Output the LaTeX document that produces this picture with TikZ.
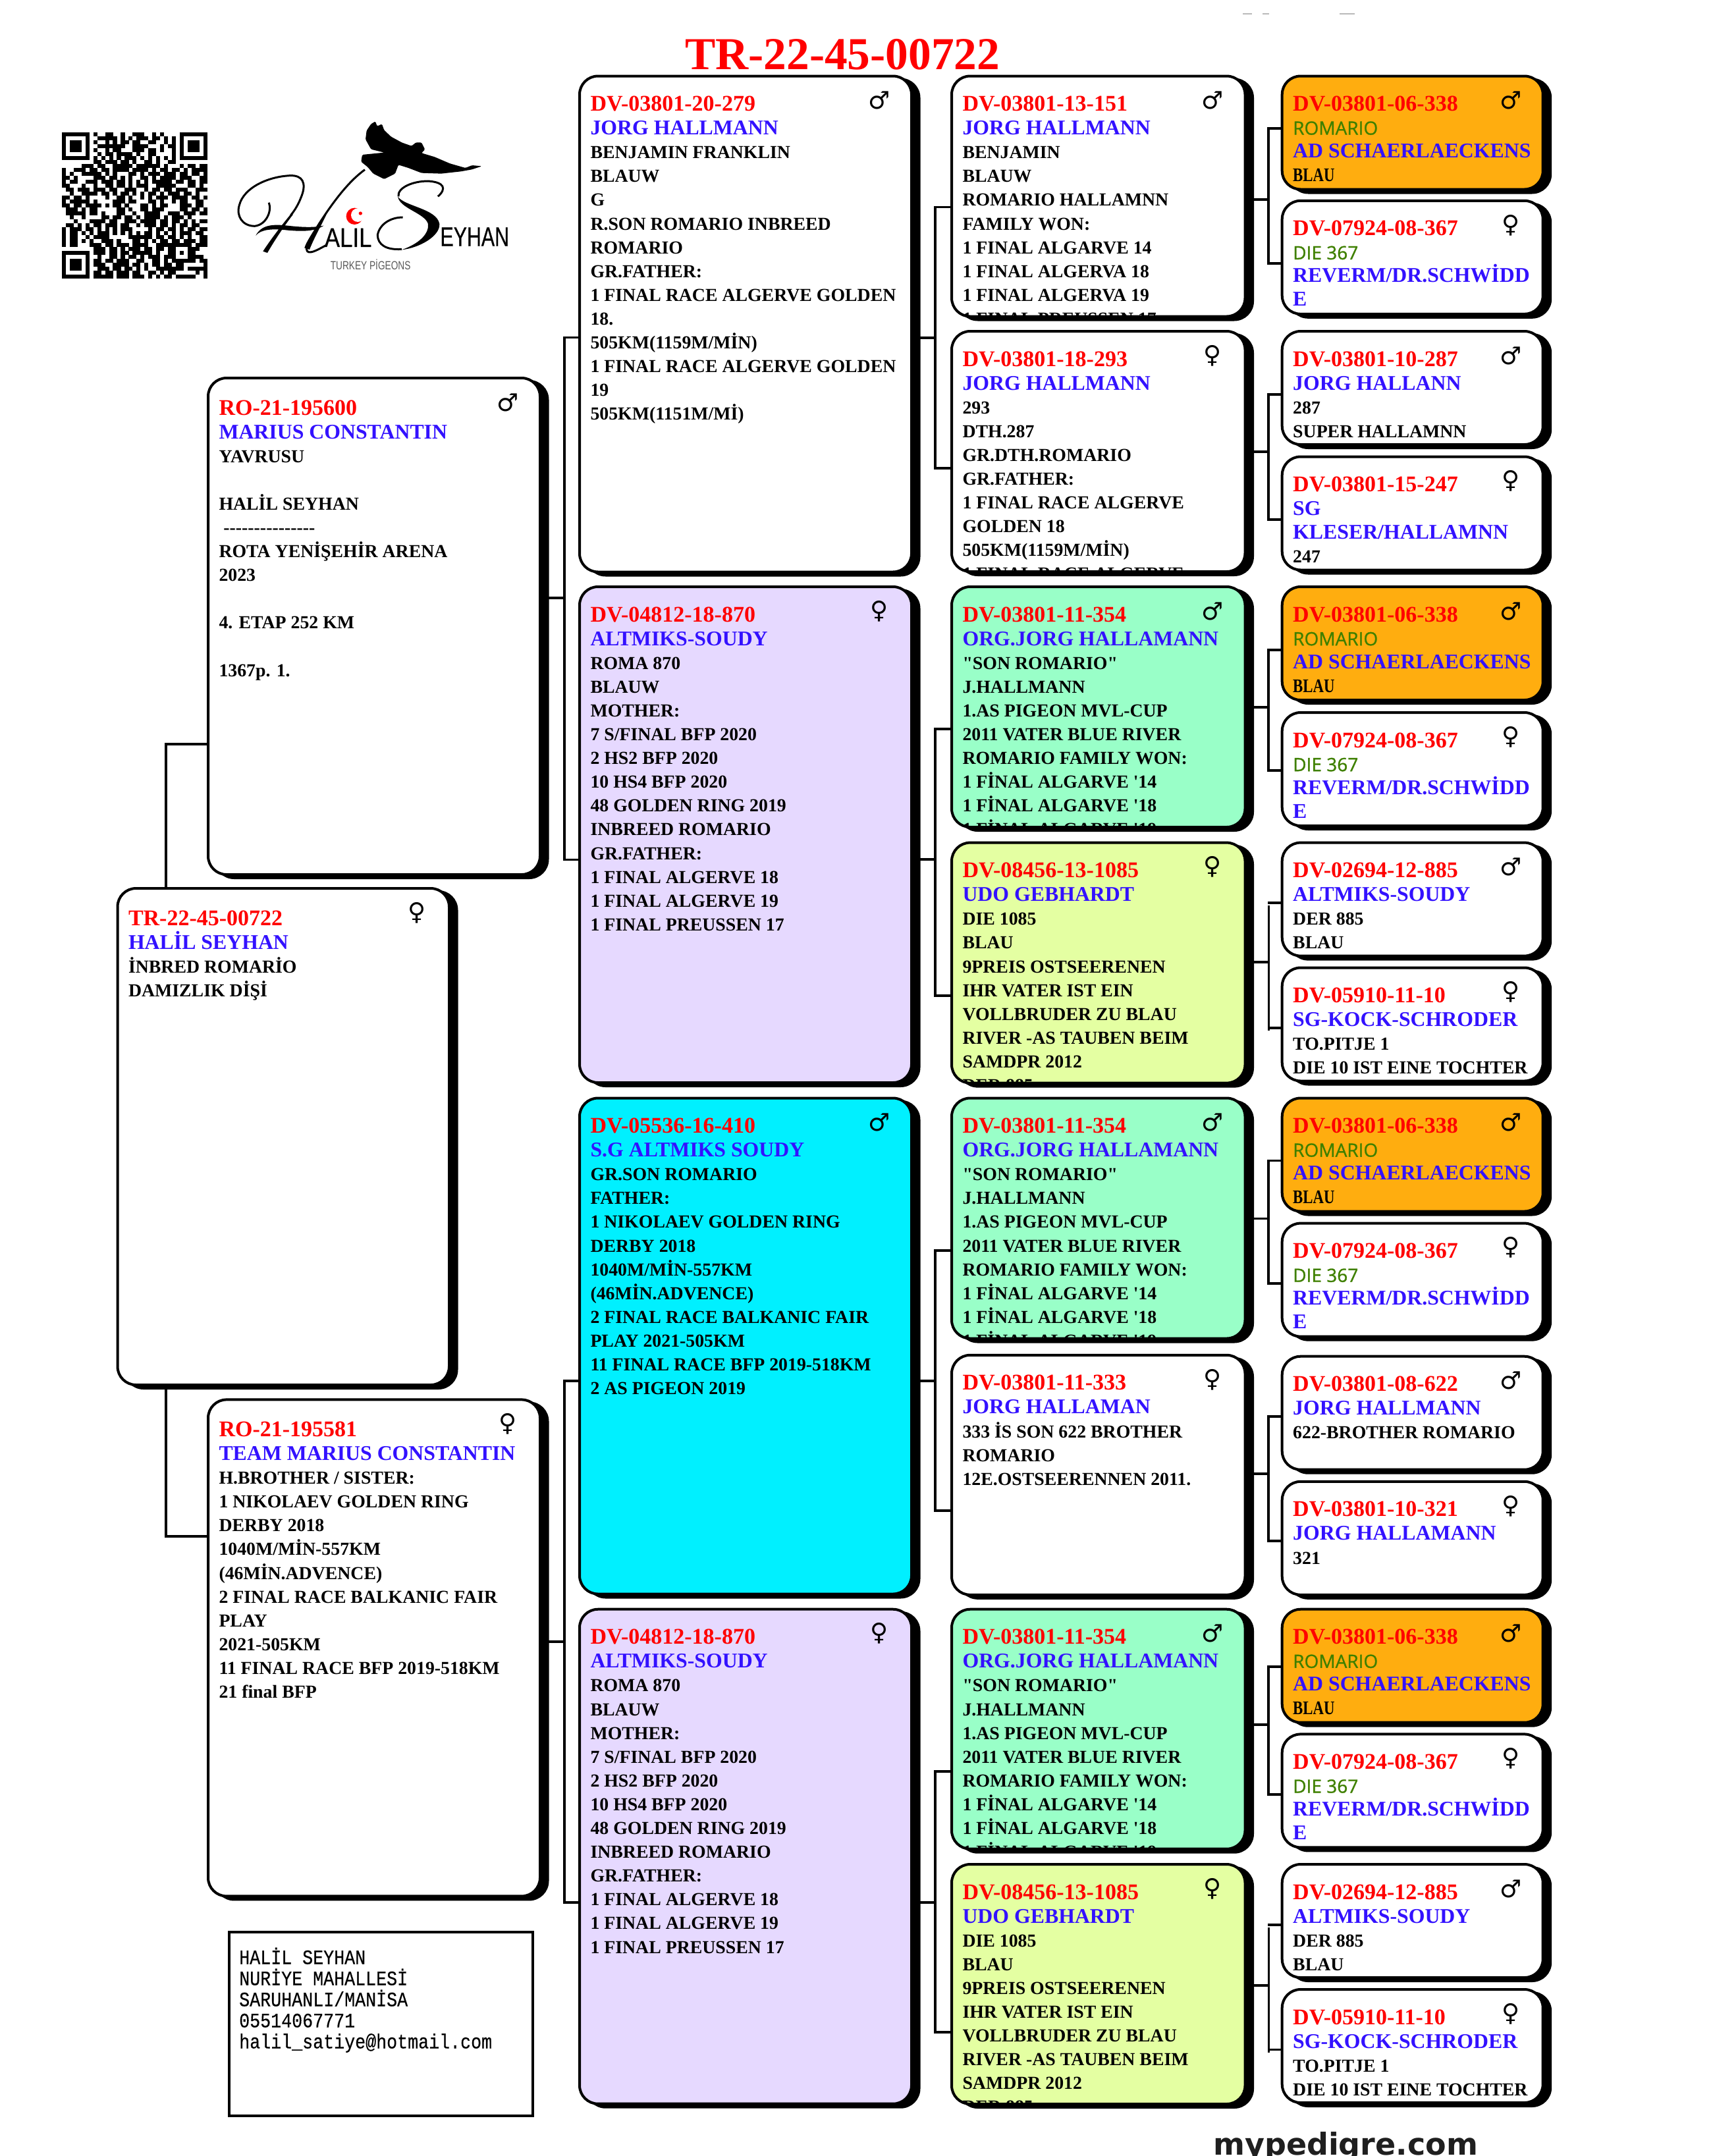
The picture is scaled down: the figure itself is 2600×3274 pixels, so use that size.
\documentclass[tikz,border=0pt]{standalone}
\usepackage{fontspec}
\usetikzlibrary{calc}
\newfontfamily\srf{Liberation Serif}
\newfontfamily\snf[FakeBold=0.5]{Liberation Sans}
\newfontfamily\snr{Liberation Sans}
\newfontfamily\opn[FakeBold=1]{Open Sans}
\newfontfamily\mnf[FakeBold=0.4]{Liberation Mono}
\newfontfamily\djv{DejaVu Sans}
\definecolor{tred}{HTML}{FF0000}
\definecolor{tblue}{HTML}{3311FF}
\definecolor{tgreen}{HTML}{3F8000}
\definecolor{forange}{HTML}{FFAD0F}
\definecolor{fmint}{HTML}{99FFC8}
\definecolor{fpale}{HTML}{E4FFA2}
\definecolor{flav}{HTML}{E6D9FF}
\definecolor{fcyan}{HTML}{00F0FF}
\tikzset{
 pbox/.style={draw=black,line width=4pt,rounded corners=28pt,outer sep=2pt,inner sep=0pt,anchor=north west},
 sbox/.style={fill=black,rounded corners=30pt,outer sep=0pt,inner sep=0pt,anchor=north west},
 conn/.style={draw=black,line width=3.8pt,line cap=butt,line join=miter},
 thinconn/.style={draw=black,line width=3pt},
 plain/.style={minimum width=0pt,minimum height=0pt,draw=none,fill=none,rounded corners=0pt,inner sep=0pt},
 sexmark/.style={plain,anchor=center,font=\djv\fontsize{37}{37}\selectfont},
}
\newcommand\tln[1]{\hbox{#1}}
\newcommand\rd[1]{\tln{\srf\bfseries\fontsize{34}{36}\selectfont\color{tred}#1}}
\newcommand\nm[1]{\tln{\srf\bfseries\fontsize{31.8}{36}\selectfont\color{tblue}#1}}
\newcommand\bk[1]{\tln{\srf\bfseries\fontsize{27.8}{36}\selectfont #1}}
\newcommand\gn[1]{\tln{\opn\fontsize{28}{36}\selectfont\color{tgreen}#1}\vskip-1.2pt}
\newcommand\nb[1]{\tln{\srf\bfseries\fontsize{29.2}{36}\selectfont\scalebox{.78}[1]{#1}}}
% name, x, y, w, h, fill, sex, baseline offset, lines
\newcommand\pbox[9]{%
 \node[sbox,minimum width=#4pt,minimum height=#5pt] (#1-s) at ({#2+11.5},{-(#3+5)}) {};
 \node[pbox,fill=#6,minimum width=#4pt-4pt,minimum height=#5pt-4pt,
  path picture={
   \node[plain,anchor=base west] at ($(path picture bounding box.north west)+(14.5,{-(#8-2)})$)
    {\vtop{\baselineskip=36.1pt\lineskiplimit=-100pt\lineskip=0pt #9}};
   \node[sexmark] at ($(path picture bounding box.north east)+(-49,-37)$) {\char"#7};
  }] (#1) at (#2,{-#3}) {};
}
\newcommand\mainbr[7]{% parent, child1, child2, ymid, y1, y2, xv
 \draw[conn] (#1.east |- 0,{-#4}) -- (#7,{-#4});
 \draw[conn] (#2.west |- 0,{-#5}) -| (#7,{-#4}) |- (#3.west |- 0,{-#6});
}
\newcommand\gapbr[7]{%
 \draw[conn] (#1.east |- 0,{-#4}) -- (#7,{-#4});
 \draw[conn] (#2.west |- 0,{-#5}) -- ({#7-1.5},{-#5});
 \draw[conn] (#3.west |- 0,{-#6}) -- ({#7-1.5},{-#6});
 \draw[thinconn] (#7,{-(#5+4)}) -- (#7,{-(#6+4)});
}
\newcommand\lavlines{\rd{DV-04812-18-870}\nm{ALTMIKS-SOUDY}\bk{ROMA 870}\bk{BLAUW}\bk{MOTHER:}\bk{7 S/FINAL BFP 2020}\bk{2 HS2 BFP 2020}\bk{10 HS4 BFP 2020}\bk{48 GOLDEN RING 2019}\bk{INBREED ROMARIO}\bk{GR.FATHER:}\bk{1 FINAL ALGERVE 18}\bk{1 FINAL ALGERVE 19}\bk{1 FINAL PREUSSEN 17}}
\newcommand\mintlines{\rd{DV-03801-11-354}\nm{ORG.JORG HALLAMANN}\bk{"SON ROMARIO"}\bk{J.HALLMANN}\bk{1.AS PIGEON MVL-CUP}\bk{2011 VATER BLUE RIVER}\bk{ROMARIO FAMILY WON:}\bk{1 FİNAL ALGARVE '14}\bk{1 FİNAL ALGARVE '18}\bk{1 FİNAL ALGARVE '19}}
\newcommand\palelines{\rd{DV-08456-13-1085}\nm{UDO GEBHARDT}\bk{DIE 1085}\bk{BLAU}\bk{9PREIS OSTSEERENEN}\bk{IHR VATER IST EIN}\bk{VOLLBRUDER ZU BLAU}\bk{RIVER -AS TAUBEN BEIM}\bk{SAMDPR 2012}\bk{DER 885}}
\newcommand\orglines{\rd{DV-03801-06-338}\gn{ROMARIO}\nm{AD SCHAERLAECKENS}\nb{BLAU}}
\newcommand\dielines{\rd{DV-07924-08-367}\gn{DIE 367}\nm{REVERM/DR.SCHWİDD}\nm{E}}
\newcommand\derlines{\rd{DV-02694-12-885}\nm{ALTMIKS-SOUDY}\bk{DER 885}\bk{BLAU}}
\newcommand\tenlines{\rd{DV-05910-11-10}\nm{SG-KOCK-SCHRODER}\bk{TO.PITJE 1}\bk{DIE 10 IST EINE TOCHTER}}
% QR parser
\newcount\qrx \newcount\qry
\def\qrparse#1{\ifx#1\relax\else\ifx#1X\fill (\the\qrx,\the\qry) rectangle ++(1.03,1.03);\fi\advance\qrx by 1 \expandafter\qrparse\fi}
\newcommand\qrrow[1]{\qrx=0 \qrparse#1\relax\advance\qry by 1 }
\begin{document}
\begin{tikzpicture}[x=1pt,y=1pt]
\useasboundingbox (0,0) rectangle (2600,-3274);
\clip (0,0) rectangle (2600,-3274);
\fill[white] (0,0) rectangle (2600,-3274);
% faint marks at the top
\draw[gray!55,line width=1.2pt] (1887,-21) -- (1901,-21) (1917,-21) -- (1927,-21) (2034,-21) -- (2057,-21);
% title
\node[anchor=base west,inner sep=0pt,text=tred,font=\srf\bfseries\fontsize{69.4}{70}\selectfont] (title) at (1040,-105) {TR-22-45-00722};
% QR
\begin{scope}[shift={(94,-201)},x=5.96pt,y=-5.99pt]
\qry=0
\qrrow{XXXXXXX. X..XX..X..XXX..X.X... .XXXXXXX}
\qrrow{X.....X. .XXXXX.X.X.XXX.XX.X.X .X.....X}
\qrrow{X.XXX.X. X..X.X.XX.XX..XX..X.X .X.XXX.X}
\qrrow{X.XXX.X. .XXXXXXX..XXXX...X.XX .X.XXX.X}
\qrrow{X.XXX.X. X..X.XX...XXX.XX.X..X .X.XXX.X}
\qrrow{X.....X. .X.XX.XXXX.X..XX....X .X.....X}
\qrrow{XXXXXXX. X.X.X.X.XXX.X.X.X.X.X .XXXXXXX}
\qrrow{........ XX.XXX.XX.X..XX.X..XX ........}
\qrrow{.....XXX .XX..XXXXX.XXXXXX.X.. .X.XX.XX}
\qrrow{X..XXX.XX. XX.XXXX.XX XX.X.XX.XX .X.XXXX}
\qrrow{X.X..XXXXX .X.X...XX. X.XXX.XXX. XX.XX.X}
\qrrow{XX.X....XX X.XX.X.X.. XX.X.XXXX. XXX..XX}
\qrrow{X.XX..XXX. XXX.XX.X.X .X.XXXXX.X X.XX.XX}
\qrrow{XX...X..X. .XX.XX.X.X XX..XXXXX. ..XX.X.}
\qrrow{.XX.XXX.XX X.XX..XXX. .X.XX.XX.X XX..XXX}
\qrrow{..X..XXXX. XX.X.XX.X. X.XX.X.XXX .XX.X..}
\qrrow{XX.XX.X... .X..XX.X.. X.X.XXX.XX XX.XX.X}
\qrrow{X.XXXXX.X. ...XXX.XX. ..XX.X..X. XX..XX.}
\qrrow{XX.XX.XXXX .X.XX.X... XX.X.XX... XXX.XX.}
\qrrow{.XXX.X.XX. ....XX.X.. XX.XXX.... XX.XX.X}
\qrrow{.XXXXX.XX. X...XX..X. .XXXX..XXX .XXX.XX}
\qrrow{..X..X.... XX.XX.XX.X .XXXX.X.XX X.X....}
\qrrow{...X...XXX X.XX..XXX. XXXX.XX.XX .X.X.XX}
\qrrow{.XX.X.X.XX .XXX.XX..X .XXX.XX.X. XX.XX..}
\qrrow{X.XXX.XX.X .X.X.XXX.. ..X.XX.XX. X.XX.XX}
\qrrow{X.XX.X.X.X XX.X.X.X.X .XX.X.X.X. XXX.XX.}
\qrrow{X.XX..X.XX XX.....XXX XXX.XX.XX. X.X..XX}
\qrrow{X.XX.X.X.. XXX.X...XX .X.X.XX.XX .XXX.XX}
\qrrow{X.XX...XXX .XX.XXX.XX XX..XXXX XXXXX .XXX}
\qrrow{........XX X.XX.X.XXX .XX.XX.X X...X XX..}
\qrrow{XXXXXXX. XXX.XX.XX.XXXXX.X..X X.X.X X...}
\qrrow{X.....X. .X..XX.X.XX.X.XXX.XX X...X XXX.}
\qrrow{X.XXX.X. XX.XX.XXX..XX..XX.X. XXXXX X.XX}
\qrrow{X.XXX.X. XXX..XXXX.XX.X.XX.XX .XX.. ...X}
\qrrow{X.XXX.X. .XXX.XX.XX.X.X..XXXX XXX.X XXXX}
\qrrow{X.....X. XX.XX.XXX.XX..XX.X.X X.... .X.X}
\qrrow{XXXXXXX. XXXXX.XXX.XXX.X.X.XX .XXXX X..X}
\end{scope}
% logo (coordinates of a 3x crop)
\begin{scope}[shift={(350,-175)},x=0.3333pt,y=-0.3333pt]
\fill[black,rounded corners=1.5pt] (660,28) -- (668,50) -- (690,40) -- (700,68) -- (732,98) -- (782,125) -- (825,140) -- (845,124) -- (870,124) -- (886,156) -- (870,172) -- (930,190) -- (1000,220) -- (1070,240) -- (1100,228) -- (1145,232) -- (1100,247) -- (1050,256) -- (960,266) -- (870,263) -- (810,240) -- (765,226) -- (750,266) -- (700,291) -- (650,266) -- (625,236) -- (595,212) -- (600,180) -- (700,170) -- (640,155) -- (615,110) -- (620,70) -- (640,40) -- cycle;
\draw[black,line width=3pt] (175,398) .. controls (190,440) and (160,500) .. (110,505) .. controls (55,505) and (25,460) .. (40,410) .. controls (60,330) and (170,280) .. (270,275) .. controls (330,272) and (345,310) .. (325,365) .. controls (310,405) and (295,430) .. (275,455);
\fill[black] (275,450) .. controls (230,505) and (180,570) .. (148,620) -- (168,627) .. controls (195,580) and (240,510) .. (285,452) -- cycle;
\fill[black] (115,548) .. controls (140,500) and (190,495) .. (260,503) .. controls (320,510) and (380,513) .. (425,503) .. controls (380,532) and (320,529) .. (260,524) .. controls (190,516) and (140,519) .. (115,548) -- cycle;
\draw[black,line width=3pt] (612,248) .. controls (540,300) and (470,390) .. (400,500) .. controls (370,550) and (335,600) .. (350,620) .. controls (365,635) and (410,605) .. (440,590);
\fill[black] (445,435) .. controls (400,500) and (345,570) .. (337,605) -- (360,612) .. controls (380,560) and (415,500) .. (445,435) -- cycle;
\fill[tred] (565,460) circle (38);
\fill[white] (580,455) circle (31);
\fill[tred] (592,447) circle (8);
\node[anchor=base west,inner sep=0pt,font=\snf\fontsize{41}{41}\selectfont] (logoa) at (428,600) {\scalebox{.85}[1]{ALIL}};
\node[anchor=base west,inner sep=0pt,font=\snf\fontsize{41}{41}\selectfont] (logob) at (955,596) {\scalebox{.74}[1]{EYHAN}};
\draw[black,line width=3pt] (945,370) .. controls (985,335) and (975,305) .. (900,300) .. controls (830,300) and (760,330) .. (765,370);
\fill[black] (762,370) .. controls (790,415) and (940,425) .. (952,495) .. controls (956,550) and (860,605) .. (780,613) .. controls (860,585) and (905,540) .. (900,495) .. controls (885,445) and (770,425) .. (762,370) -- cycle;
\draw[black,line width=3pt] (780,610) .. controls (710,615) and (670,590) .. (670,545) .. controls (680,495) and (730,465) .. (785,465);
\node[anchor=base,inner sep=0pt,text=black!65,font=\snr\fontsize{18}{18}\selectfont] (logoc) at (638,705) {\scalebox{.76}[1]{TURKEY PİGEONS}};
\end{scope}
% generation 2 and 3
\pbox{n1}{176.5}{1347}{507.5}{758}{white}{2640}{58}{\rd{TR-22-45-00722}\nm{HALİL SEYHAN}\bk{İNBRED ROMARİO}\bk{DAMIZLIK DİŞİ}}
\pbox{n2}{314}{572}{508}{758}{white}{2642}{58}{\rd{RO-21-195600}\nm{MARIUS CONSTANTIN}\bk{YAVRUSU}\bk{\strut}\bk{HALİL SEYHAN}\bk{\ ---------------}\bk{ROTA YENİŞEHİR ARENA}\bk{2023}\bk{\strut}\bk{4. ETAP 252 KM}\bk{\strut}\bk{1367p. 1.}}
\pbox{n3}{314}{2123.4}{508}{758}{white}{2640}{58}{\rd{RO-21-195581}\nm{TEAM MARIUS CONSTANTIN}\bk{H.BROTHER / SISTER:}\bk{1 NIKOLAEV GOLDEN RING}\bk{DERBY 2018}\bk{1040M/MİN-557KM}\bk{(46MİN.ADVENCE)}\bk{2 FINAL RACE BALKANIC FAIR}\bk{PLAY}\bk{2021-505KM}\bk{11 FINAL RACE BFP 2019-518KM}\bk{21 final BFP}}
% generation 4
\pbox{a1}{878}{113.5}{508}{757}{white}{2642}{55}{\rd{DV-03801-20-279}\nm{JORG HALLMANN}\bk{BENJAMIN FRANKLIN}\bk{BLAUW}\bk{G}\bk{R.SON ROMARIO INBREED}\bk{ROMARIO}\bk{GR.FATHER:}\bk{1 FINAL RACE ALGERVE GOLDEN}\bk{18.}\bk{505KM(1159M/MİN)}\bk{1 FINAL RACE ALGERVE GOLDEN}\bk{19}\bk{505KM(1151M/Mİ)}}
\pbox{a2}{878}{889}{508}{757}{flav}{2640}{55}{\lavlines}
\pbox{a3}{878}{1665.5}{508}{757}{fcyan}{2642}{55}{\rd{DV-05536-16-410}\nm{S.G ALTMIKS SOUDY}\bk{GR.SON ROMARIO}\bk{FATHER:}\bk{1 NIKOLAEV GOLDEN RING}\bk{DERBY 2018}\bk{1040M/MİN-557KM}\bk{(46MİN.ADVENCE)}\bk{2 FINAL RACE BALKANIC FAIR}\bk{PLAY 2021-505KM}\bk{11 FINAL RACE BFP 2019-518KM}\bk{2 AS PIGEON 2019}}
\pbox{a4}{878}{2441.7}{508}{755}{flav}{2640}{55}{\lavlines}
% generation 5
\pbox{b1}{1443}{113.5}{449.5}{369}{white}{2642}{55}{\rd{DV-03801-13-151}\nm{JORG HALLMANN}\bk{BENJAMIN}\bk{BLAUW}\bk{ROMARIO HALLAMNN}\bk{FAMILY WON:}\bk{1 FINAL ALGARVE 14}\bk{1 FINAL ALGERVA 18}\bk{1 FINAL ALGERVA 19}\bk{1 FINAL PREUSSEN 17}}
\pbox{b2}{1443}{501}{449.5}{369}{white}{2640}{55}{\rd{DV-03801-18-293}\nm{JORG HALLMANN}\bk{293}\bk{DTH.287}\bk{GR.DTH.ROMARIO}\bk{GR.FATHER:}\bk{1 FINAL RACE ALGERVE}\bk{GOLDEN 18}\bk{505KM(1159M/MİN)}\bk{1 FINAL RACE ALGERVE}}
\pbox{b3}{1443}{889}{449.5}{369}{fmint}{2642}{55}{\mintlines}
\pbox{b4}{1443}{1277.6}{449.5}{369}{fpale}{2640}{55}{\palelines}
\pbox{b5}{1443}{1665.5}{449.5}{369}{fmint}{2642}{55}{\mintlines}
\pbox{b6}{1443}{2055.8}{449.5}{368}{white}{2640}{55}{\rd{DV-03801-11-333}\nm{JORG HALLAMAN}\bk{333 İS SON 622 BROTHER}\bk{ROMARIO}\bk{12E.OSTSEERENNEN 2011.}}
\pbox{b7}{1443}{2441.7}{449.5}{368}{fmint}{2642}{55}{\mintlines}
\pbox{b8}{1443}{2829}{449.5}{368}{fpale}{2640}{55}{\palelines}
% generation 6
\pbox{c1}{1944.7}{113.5}{400}{176}{forange}{2642}{55}{\orglines}
\pbox{c2}{1944.7}{302.8}{400}{176}{white}{2640}{55}{\dielines}
\pbox{c3}{1944.7}{501}{400}{176}{white}{2642}{55}{\rd{DV-03801-10-287}\nm{JORG HALLANN}\bk{287}\bk{SUPER HALLAMNN}}
\pbox{c4}{1944.7}{691.5}{400}{176}{white}{2640}{55}{\rd{DV-03801-15-247}\nm{SG}\nm{KLESER/HALLAMNN}\bk{247}}
\pbox{c5}{1944.7}{889}{400}{176}{forange}{2642}{55}{\orglines}
\pbox{c6}{1944.7}{1080}{400}{176}{white}{2640}{55}{\dielines}
\pbox{c7}{1944.7}{1277.6}{400}{176}{white}{2642}{55}{\derlines}
\pbox{c8}{1944.7}{1467.5}{400}{176}{white}{2640}{55}{\tenlines}
\pbox{c9}{1944.7}{1665.5}{400}{176}{forange}{2642}{55}{\orglines}
\pbox{c10}{1944.7}{1855.6}{400}{176}{white}{2640}{55}{\dielines}
\pbox{c11}{1944.7}{2057.7}{400}{176}{white}{2642}{55}{\rd{DV-03801-08-622}\nm{JORG HALLMANN}\bk{622-BROTHER ROMARIO}}
\pbox{c12}{1944.7}{2247.8}{400}{176}{white}{2640}{55}{\rd{DV-03801-10-321}\nm{JORG HALLAMANN}\bk{321}}
\pbox{c13}{1944.7}{2441.7}{400}{176}{forange}{2642}{55}{\orglines}
\pbox{c14}{1944.7}{2631.4}{400}{176}{white}{2640}{55}{\dielines}
\pbox{c15}{1944.7}{2829}{400}{176}{white}{2642}{55}{\derlines}
\pbox{c16}{1944.7}{3019}{400}{176}{white}{2640}{55}{\tenlines}
% connectors
\draw[conn] (n1.north -| 252,0) |- (n2.west |- 0,-1130);
\draw[conn] (n1.south -| 252,0) |- (n3.west |- 0,-2333);
\mainbr{n2}{a1}{a2}{908}{512.5}{1305.5}{857}
\mainbr{n3}{a3}{a4}{2493}{2097}{2889}{857}
\mainbr{a1}{b1}{b2}{513}{314.5}{711}{1420}
\mainbr{a2}{b3}{b4}{1305}{1107}{1512}{1420}
\mainbr{a3}{b5}{b6}{2096.6}{1899}{2294}{1420}
\mainbr{a4}{b7}{b8}{2889}{2690}{3086}{1420}
\mainbr{b1}{c1}{c2}{302.8}{194.6}{400}{1926}
\mainbr{b2}{c3}{c4}{686}{599}{789}{1926}
\mainbr{b3}{c5}{c6}{1074}{987}{1170}{1926}
\gapbr{b4}{c7}{c8}{1460.6}{1371.3}{1560.9}{1926}
\mainbr{b5}{c9}{c10}{1850.5}{1762.4}{1949}{1926}
\mainbr{b6}{c11}{c12}{2238}{2151}{2340}{1926}
\mainbr{b7}{c13}{c14}{2619}{2530.6}{2725}{1926}
\gapbr{b8}{c15}{c16}{3014.6}{2922.6}{3112.5}{1926}
% address
\node[draw=black,line width=4pt,anchor=north west,minimum width=461pt,minimum height=279pt,outer sep=2pt,inner sep=0pt] (addr) at (346.4,-2931.5) {};
\node[anchor=base west,inner sep=0pt,font=\mnf\fontsize{31}{32}\selectfont] (addrtext) at (363,-2982.5) {\vtop{\baselineskip=32pt\lineskiplimit=-100pt\tln{\scalebox{.86}[1]{HALİL SEYHAN}}\tln{\scalebox{.86}[1]{NURİYE MAHALLESİ}}\tln{\scalebox{.86}[1]{SARUHANLI/MANİSA}}\tln{\scalebox{.86}[1]{05514067771}}\tln{\scalebox{.86}[1]{halil\_satiye@hotmail.com}}}};
% footer
\node[anchor=base west,inner sep=0pt,font=\djv\bfseries\fontsize{46}{46}\selectfont,text=black!88] (footer) at (1842,-3272) {mypedigre.com};
\end{tikzpicture}
\end{document}
